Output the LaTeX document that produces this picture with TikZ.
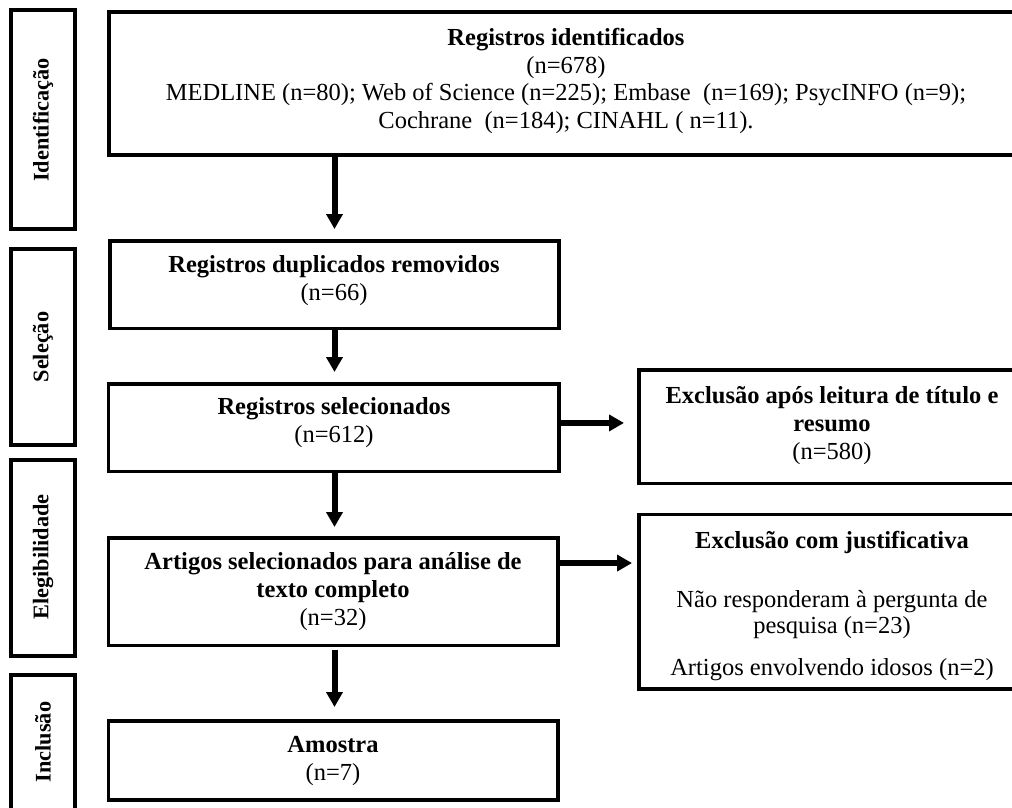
\documentclass[tikz,border=0pt]{standalone}
\usepackage{fontspec}
\setmainfont{Liberation Serif}
\usetikzlibrary{arrows.meta,calc}
\tikzset{
  box/.style={draw=black, line width=3.3pt, inner sep=0pt, outer sep=0pt, fill=none},
  txt/.style={font=\fontsize{24.5}{27.6}\selectfont, align=center, inner sep=0pt, anchor=base},
  side/.style={font=\fontsize{22.3}{26}\selectfont\bfseries, inner sep=0pt, rotate=90, anchor=center},
  arr/.style={line width=6pt, -{Triangle[length=15pt,width=16pt]}}
}
\begin{document}
\begin{tikzpicture}[x=1pt,y=-1pt]
\useasboundingbox (0,0) rectangle (1012,807);
\clip (0,0) rectangle (1012,807);
\fill[white] (0,0) rectangle (1012,807);
% side phase boxes
\node[box, minimum width=64pt, minimum height=219pt] (idb) at (43,119.5) {};
\node[box, minimum width=64pt, minimum height=196pt] (seb) at (43,347) {};
\node[box, minimum width=64pt, minimum height=196pt] (elb) at (43,558) {};
\node[box, minimum width=64pt, minimum height=150pt] (inb) at (43,750) {};
\node[side] (idl) at (43,120) {Identificação};
\node[side] (sel-l) at (43,347) {Seleção};
\node[side] (ell) at (43,557) {Elegibilidade};
\node[side] (inl) at (43,742) {Inclusão};
% main boxes
\node[box, minimum width=916pt, minimum height=143pt] (top) at (567,83.5) {};
\node[box, minimum width=449pt, minimum height=87.5pt] (dup) at (334.5,284.75) {};
\node[box, minimum width=450.5pt, minimum height=87.5pt] (sel) at (333.75,427.75) {};
\node[box, minimum width=386pt, minimum height=113.5pt] (exa) at (832,426.75) {};
\node[box, minimum width=449.5pt, minimum height=107.5pt] (art) at (333.25,591.75) {};
\node[box, minimum width=449.5pt, minimum height=79pt] (amo) at (333.25,760.5) {};
\node[box, minimum width=386pt, minimum height=174.5pt] (exb) at (832,601.75) {};
% texts (anchor base = baseline of last line)
\node[txt] (toptxt) at (566,128.5) {\textbf{Registros identificados}\\(n=678)\\MEDLINE (n=80); Web of Science (n=225); Embase~ (n=169); PsycINFO (n=9);\\Cochrane~ (n=184); CINAHL ( n=11).};
\node[txt] (duptxt) at (334,300) {\textbf{Registros duplicados removidos}\\(n=66)};
\node[txt] (seltxt) at (334,442) {\textbf{Registros selecionados}\\(n=612)};
\node[txt] (exatxt) at (832,459) {\textbf{Exclusão após leitura de título e}\\\textbf{resumo}\\(n=580)};
\node[txt] (arttxt) at (333,625) {\textbf{Artigos selecionados para análise de}\\\textbf{texto completo}\\(n=32)};
\node[txt] (amotxt) at (333,780) {\textbf{Amostra}\\(n=7)};
\node[txt] (exbtxt) at (832,675) {\textbf{Exclusão com justificativa}\\[31.4pt]Não responderam à pergunta de\\[-1.6pt]pesquisa (n=23)\\[14.4pt]Artigos envolvendo idosos (n=2)};
% arrows
\draw[arr, shorten >=12pt] (top.south -| dup.north) -- (dup.north);
\draw[arr, shorten >=12pt] (dup.south) -- (sel.north -| dup.south);
\draw[arr, shorten >=11pt] (sel.south -| dup.south) -- (art.north -| dup.south);
\draw[arr, shorten <=4pt, shorten >=14pt] (art.south -| dup.south) -- (amo.north -| dup.south);
\coordinate (sela) at ($(sel.north east)!0.445!(sel.south east)$);
\draw[arr, shorten >=15pt] (sela) -- (sela -| exa.west);
\coordinate (arta) at ($(art.north east)!0.233!(art.south east)$);
\draw[arr, shorten >=7pt] (arta) -- (arta -| exb.west);
\end{tikzpicture}
\end{document}
